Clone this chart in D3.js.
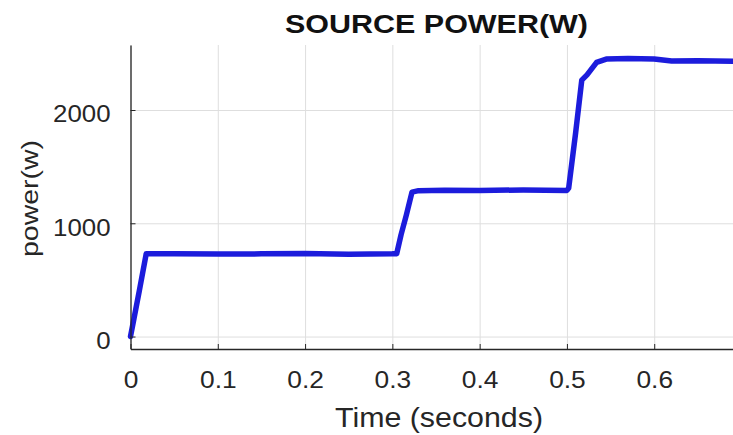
<!DOCTYPE html>
<html lang="en">
<head>
    <meta charset="UTF-8">
    <title>Source Power</title>
    <script src="https://cdn.jsdelivr.net/npm/d3@7"></script>
    <style>
        body { margin: 0; background: #fff; }
        text { font-family: "Liberation Sans", Arial, sans-serif; fill: #262626; }
        .grid line { stroke: #dedede; stroke-width: 1px; }
        .grid path { display: none; }
        .axis path, .axis line { stroke: #262626; }
    </style>
</head>
<body>
<script>
    // time (s) and power (W)
    var time  = [0, 0.004, 0.010, 0.018, 0.05, 0.10, 0.15, 0.20, 0.25, 0.30, 0.305,
                 0.310, 0.316, 0.3225, 0.33, 0.36, 0.40, 0.45, 0.50, 0.502,
                 0.510, 0.517, 0.523, 0.534, 0.545, 0.57, 0.60, 0.62, 0.65, 0.70];
    var power = [0, 160, 400, 730, 732, 728, 730, 733, 727, 730, 732,
                 900, 1072, 1275, 1288, 1292, 1290, 1294, 1290, 1310,
                 1800, 2264, 2310, 2420, 2450, 2455, 2450, 2432, 2435, 2430];
    var xTicks = [0, 0.1, 0.2, 0.3, 0.4, 0.5, 0.6];
    var yTicks = [0, 1000, 2000];

    var width = 733, height = 435;
    var margin = {top: 45, left: 130.5};
    var plotW = 611, plotH = 304;

    var svg = d3.select("body").append("svg")
        .attr("width", width)
        .attr("height", height);

    var x = d3.scaleLinear().domain([0, 0.7]).range([0, plotW]);
    var y = d3.scaleLinear().domain([-110, 2574]).range([plotH, 0]);

    var g = svg.append("g")
        .attr("transform", "translate(" + margin.left + "," + margin.top + ")");

    // grid
    g.append("g").attr("class", "grid")
        .attr("transform", "translate(0," + plotH + ")")
        .call(d3.axisBottom(x).tickValues(xTicks).tickSize(-plotH).tickFormat(""));
    g.append("g").attr("class", "grid")
        .call(d3.axisLeft(y).tickValues(yTicks).tickSize(-plotW).tickFormat(""));

    // trace
    var line = d3.line()
        .x(function (d, i) { return x(time[i]); })
        .y(function (d) { return y(d); });

    g.append("path")
        .datum(power)
        .attr("d", line)
        .attr("fill", "none")
        .attr("stroke", "#1c1cdc")
        .attr("stroke-width", 5.5)
        .attr("stroke-linejoin", "round")
        .attr("stroke-linecap", "round");

    // axes, inward ticks
    var xAxis = g.append("g").attr("class", "axis")
        .attr("transform", "translate(0," + plotH + ")")
        .call(d3.axisBottom(x).tickValues(xTicks).tickSizeInner(-5).tickSizeOuter(0)
            .tickPadding(0).tickFormat(d3.format("")));
    var yAxis = g.append("g").attr("class", "axis")
        .call(d3.axisLeft(y).tickValues(yTicks).tickSizeInner(-5).tickSizeOuter(0)
            .tickPadding(20).tickFormat(d3.format("d")));

    svg.selectAll(".axis path").attr("stroke-width", 1.3);

    // matlab text looks stretched sideways; widen glyphs to match
    function stretch(sel, k) {
        sel.each(function () {
            var w = this.getComputedTextLength();
            d3.select(this).attr("textLength", w * k).attr("lengthAdjust", "spacingAndGlyphs");
        });
    }

    xAxis.selectAll("text").style("font-size", "23.5px")
        .attr("y", 39).attr("dy", null);
    yAxis.selectAll("text").style("font-size", "23.5px")
        .attr("dy", "0.5em");
    stretch(xAxis.selectAll("text"), 1.12);
    stretch(yAxis.selectAll("text"), 1.1);

    // labels
    var title = svg.append("text")
        .attr("x", 436.5).attr("y", 33)
        .attr("text-anchor", "middle")
        .style("font-size", "25px").style("font-weight", "bold")
        .style("fill", "#111")
        .text("SOURCE POWER(W)");
    title.attr("textLength", 303).attr("lengthAdjust", "spacingAndGlyphs");

    svg.append("text")
        .attr("x", 439).attr("y", 427)
        .attr("text-anchor", "middle")
        .style("font-size", "27px")
        .attr("textLength", 208).attr("lengthAdjust", "spacingAndGlyphs")
        .text("Time (seconds)");

    svg.append("text")
        .attr("transform", "translate(38,198.5) rotate(-90)")
        .attr("text-anchor", "middle")
        .style("font-size", "24px")
        .attr("textLength", 117).attr("lengthAdjust", "spacingAndGlyphs")
        .text("power(w)");
</script>
</body>
</html>
